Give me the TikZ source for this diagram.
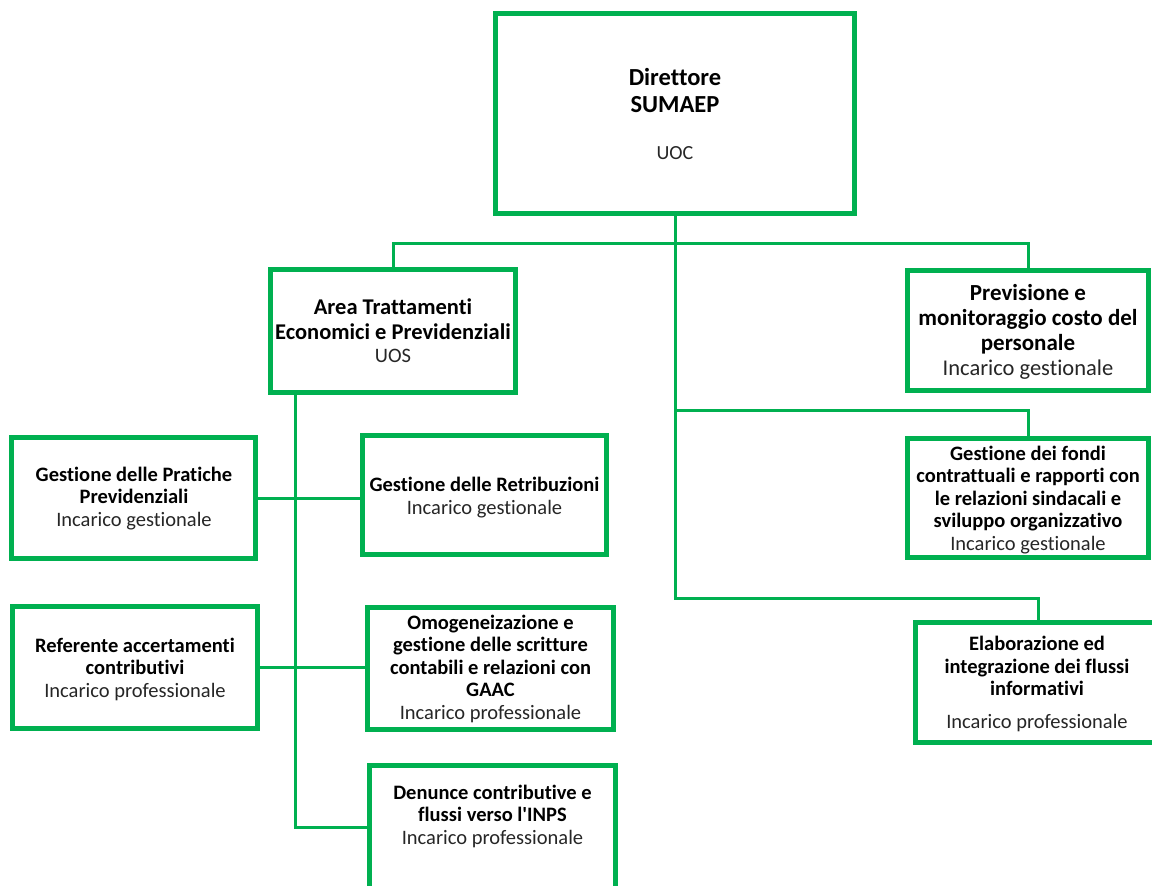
\documentclass[tikz,border=0pt]{standalone}
\usepackage{fontspec}
\setmainfont{Carlito}[Ligatures=NoCommon]
\usetikzlibrary{shadows}

\definecolor{orggreen}{RGB}{0,176,80}
\definecolor{subtext}{RGB}{38,38,38}

\tikzset{
  unitbox/.style={draw=orggreen, line width=5pt, fill=white, inner sep=0pt, outer sep=0pt,
    drop shadow={shadow xshift=1.5pt, shadow yshift=-2pt, opacity=0.3, fill=black!60}},
  link/.style={draw=orggreen, line width=3pt},
  % anchored on the baseline of the last line
  boxtext/.style={anchor=base, align=center, inner sep=0pt, text=black,
    font=\fontsize{20.5}{22.5}\selectfont\bfseries},
}

% box from its outer edges: name, left, top, right, bottom
\newcommand\unitnode[5]{%
  \node[unitbox, minimum width={#4-#2-5}, minimum height={#5-#3-5}]
    (#1) at ({(#2+#4)/2},{(#3+#5)/2}) {};}
% regular-weight line inside a bold block
\newcommand\subline[1]{{\mdseries\color{subtext}#1}}

\begin{document}
\begin{tikzpicture}[x=1pt, y=-1pt]
\useasboundingbox (0,0) rectangle (1152,886);
\clip (0,0) rectangle (1152,886);

% boxes
\unitnode{dir}{493}{11}{857}{216}
\unitnode{area}{268}{267}{518}{395}
\unitnode{prev}{905}{268}{1151}{393}
\unitnode{prat}{9}{435}{258}{561}
\unitnode{retr}{360}{433}{609}{557}
\unitnode{fondi}{905}{436}{1151}{560}
\unitnode{ref}{10}{604}{260}{731}
\unitnode{omog}{365}{605}{616}{732}
\unitnode{elab}{913}{620}{1163}{745}
\unitnode{den}{367}{763}{618}{891}

% texts
\node[boxtext, font=\fontsize{24.5}{27}\selectfont\bfseries] (dir-t) at (675,159)
  {Direttore\\SUMAEP\\[20pt]\subline{\fontsize{20}{22}\selectfont UOC}};
\node[boxtext, font=\fontsize{22.5}{25}\selectfont\bfseries] (area-t) at (393,362)
  {Area Trattamenti\\Economici e Previdenziali\\[-2pt]\subline{\fontsize{20.5}{23}\selectfont UOS}};
\node[boxtext, font=\fontsize{23}{25}\selectfont\bfseries] (prev-t) at (1028,375)
  {Previsione e\\monitoraggio costo del\\personale\\\subline{\fontsize{22.5}{25}\selectfont Incarico gestionale}};
\node[boxtext] (prat-t) at (134,526)
  {Gestione delle Pratiche\\Previdenziali\\\subline{Incarico gestionale}};
\node[boxtext] (retr-t) at (484.5,514)
  {Gestione delle Retribuzioni\\\subline{Incarico gestionale}};
\node[boxtext] (fondi-t) at (1028,550)
  {Gestione dei fondi\\contrattuali e rapporti con\\le relazioni sindacali e\\sviluppo organizzativo\\\subline{Incarico gestionale}};
\node[boxtext] (ref-t) at (135,697)
  {Referente accertamenti\\contributivi\\\subline{Incarico professionale}};
\node[boxtext] (omog-t) at (490.5,719)
  {Omogeneizazione e\\gestione delle scritture\\contabili e relazioni con\\GAAC\\\subline{Incarico professionale}};
\node[boxtext] (elab-t) at (1037,728)
  {Elaborazione ed\\integrazione dei flussi\\informativi\\[10pt]\subline{Incarico professionale}};
\node[boxtext] (den-t) at (492.5,844)
  {Denunce contributive e\\flussi verso l\textquotesingle INPS\\\subline{Incarico professionale}};

% connector levels
\coordinate (topbus) at (0,243);
\coordinate (fbus) at (0,410);
\coordinate (ebus) at (0,598);
\coordinate (spine) at (295,0);

% connectors
\draw[link] (dir.south) -- (dir.south |- ebus) -| (elab.north);
\draw[link] (area.north) |- (dir.south |- topbus) -| (prev.north);
\draw[link] (dir.south |- fbus) -| (fondi.north);
\draw[link] (spine |- area.south) -- (spine |- den.west) -- (den.west);
\draw[link] (prat.east) -- (retr.west |- prat.east);
\draw[link] (ref.east) -- (omog.west |- ref.east);
\end{tikzpicture}
\end{document}
